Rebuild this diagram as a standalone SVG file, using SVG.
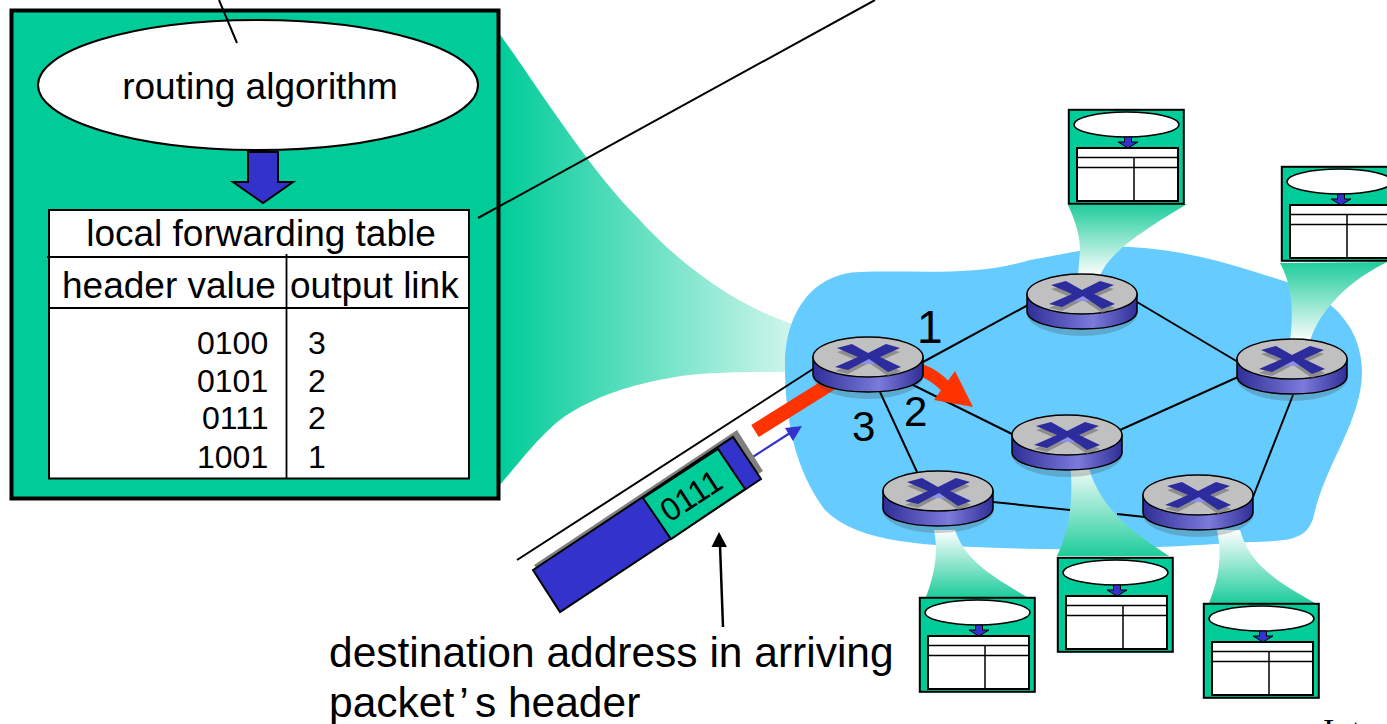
<svg xmlns="http://www.w3.org/2000/svg" xmlns:xlink="http://www.w3.org/1999/xlink" width="1387" height="724" viewBox="0 0 1387 724">
<style>
text{font-family:"Liberation Sans",Arial,sans-serif;fill:#000}
.ln{stroke:#000;fill:none}
.t37{font-size:37px}
.t{font-size:32px}
.teal{fill:#00cc99}
</style>
<defs>
<linearGradient id="fanL" gradientUnits="userSpaceOnUse" x1="500" y1="0" x2="795" y2="0"><stop offset="0" stop-color="#00cc99"/><stop offset="1" stop-color="#00cc99" stop-opacity=".18"/></linearGradient>
<linearGradient id="fanDown" x1="0" y1="0" x2="0" y2="1"><stop offset="0" stop-color="#1fcc9b"/><stop offset="1" stop-color="#ffffff"/></linearGradient>
<linearGradient id="fanUp" x1="0" y1="1" x2="0" y2="0"><stop offset="0" stop-color="#1fcc9b"/><stop offset="1" stop-color="#ffffff"/></linearGradient>
<linearGradient id="side" x1="0" y1="0" x2="1" y2="0"><stop offset="0" stop-color="#2e2e96"/><stop offset=".6" stop-color="#7b7bdc"/><stop offset="1" stop-color="#2e2e96"/></linearGradient>
<g id="router">
<ellipse cx="0" cy="10" rx="56" ry="24" fill="#444" opacity=".25"/>
<path d="M-55 -8V9C-55 20-30 27 0 27S55 20 55 9V-8Z" fill="url(#side)" stroke="#000" stroke-width="1.500"/>
<ellipse cx="0" cy="-8" rx="55" ry="20" fill="#c0c0c0" stroke="#000" stroke-width="1.500"/>
<path d="M-31 -17L-16 -21L0 -12L18 -21L32 -17L12 -8L33 2L20 7L1 -6L-20 5L-33 2L-10 -8Z" fill="#777" opacity=".7" transform="translate(0 4)"/>
<path d="M-10 -8L0 -12L12 -8V-1H-10Z" fill="#8f8fe8"/>
<path d="M-31 -17L-16 -21L0 -12L18 -21L32 -17L12 -8L33 2L20 7L1 -6L-20 5L-33 2L-10 -8Z" fill="#2c2c9c"/>
</g>
<g id="mini">
<rect x="0.800" y="0.800" width="115" height="94" class="teal" stroke="#000" stroke-width="2"/>
<ellipse cx="58.500" cy="15.500" rx="52.500" ry="12.500" fill="#fff" stroke="#000" stroke-width="1.500"/>
<path d="M56.500 28H63.500V33H70L60 39L50 33H56.500Z" fill="#3333cc" stroke="#000" stroke-width="1"/>
<rect x="9" y="39" width="101" height="53" fill="#fff" stroke="#000" stroke-width="2"/>
<path d="M9 48.500H110M9 58.500H110M66 48.500V92" class="ln" stroke-width="1.500"/>
</g>
</defs>

<g id="wide-fan"><path d="M499 33C540 90 590 170 637 217C680 265 735 305 795 325V372C740 372 700 372 670 378C630 385 600 395 570 413C545 428 520 462 499 486Z" fill="url(#fanL)"/></g>

<g id="cloud"><path d="M785 365C785 310 815 273 860 272C920 270 975 277 1030 260C1070 253 1100 245 1130 247C1190 250 1240 267 1290 283C1335 298 1362 330 1362 372C1362 420 1325 465 1314 515C1308 540 1290 541 1250 542C1200 545 1100 552 1000 548C930 545 860 545 825 510C795 470 785 420 785 365Z" fill="#66ccff"/></g>

<g id="fans">
<path d="M1068 205C1075 220 1080 235 1080 250L1078 276H1100C1108 255 1135 235 1187 204Z" fill="url(#fanDown)"/>
<path d="M1280 263C1292 285 1294 310 1290 342H1310C1315 320 1340 285 1387 262Z" fill="url(#fanDown)"/>
<path d="M934 530C938 550 936 570 926 597H1027C990 575 965 560 955 530Z" fill="url(#fanUp)"/>
<path d="M1070 462C1073 490 1072 525 1057 556H1169C1130 530 1100 510 1087 462Z" fill="url(#fanUp)"/>
<path d="M1217 530C1222 555 1220 575 1209 603H1315C1275 580 1250 565 1240 530Z" fill="url(#fanUp)"/>
</g>

<g id="main-box">
<rect x="11.500" y="10.500" width="487" height="488" class="teal" stroke="#000" stroke-width="4"/>
<ellipse cx="258" cy="85" rx="220" ry="65" fill="#fff" stroke="#000" stroke-width="2"/>
<text x="260" y="99" text-anchor="middle" class="t37">routing algorithm</text>
<path d="M248 152H278V182H293L263 203L233 182H248Z" fill="#3333cc" stroke="#000" stroke-width="2"/>
<rect x="49" y="210" width="420" height="268.500" fill="#fff" stroke="#000" stroke-width="2"/>
<path d="M47 257H469M49 308H469M286.500 254V478" class="ln" stroke-width="1.800"/>
<text x="261" y="246" text-anchor="middle" class="t37">local forwarding table</text>
<text x="62" y="298" class="t37">header value</text>
<text x="290" y="298" class="t37">output link</text>
<g class="t"><text x="197" y="354">0100</text><text x="308" y="354">3</text><text x="197" y="392">0101</text><text x="308" y="392">2</text><text x="202" y="429">0111</text><text x="308" y="429">2</text><text x="197" y="468">1001</text><text x="308" y="468">1</text></g>
</g>

<g id="connectors">
<path class="ln" stroke-width="2" d="M237 43L219 0M478 218L875 0M517 560L813 369M923 362L1028 305M1137 302L1238 362M913 385L1012 434M1120 430L1238 377M880 392L917 472M993 502L1070 510M1117 514L1145 517M1253 497L1293 395"/>
<path d="M755 431L835 381" stroke="#ff3300" stroke-width="14" fill="none"/>
<path d="M921 370Q935 375 947 388" stroke="#ff3300" stroke-width="12" fill="none"/>
<path d="M955 371L973 407L934 400Z" fill="#ff3300"/>
<path d="M748 460L790 433" stroke="#3333cc" stroke-width="2.200" fill="none"/>
<path d="M802 426L785 428L793 441Z" fill="#3333cc"/>
<path d="M723 627L720 545" stroke="#000" stroke-width="2.500" fill="none"/>
<path d="M719 532L711.500 547H727Z" fill="#000"/>
</g>

<g id="packet">
<path d="M534 565L737 430L763 471L560 600Z" fill="#808080"/>
<path d="M533 570L733 437L761 479L560 612Z" fill="#3333cc" stroke="#000" stroke-width="2"/>
<path d="M643 498L718 449L745 489L671 539Z" class="teal" stroke="#000" stroke-width="2"/>
<text text-anchor="middle" class="t" transform="translate(697 505) rotate(-33)">0111</text>
</g>

<g id="router-a"><use xlink:href="#router" href="#router" x="868" y="365"/></g>
<g id="router-b"><use xlink:href="#router" href="#router" x="1082" y="302"/></g>
<g id="router-c"><use xlink:href="#router" href="#router" x="1292" y="367"/></g>
<g id="router-d"><use xlink:href="#router" href="#router" x="1067" y="443"/></g>
<g id="router-e"><use xlink:href="#router" href="#router" x="938" y="499"/></g>
<g id="router-f"><use xlink:href="#router" href="#router" x="1198" y="503"/></g>

<g id="table-1"><use xlink:href="#mini" href="#mini" x="1068" y="109"/></g>
<g id="table-2"><use xlink:href="#mini" href="#mini" x="1281" y="166"/></g>
<g id="table-3"><use xlink:href="#mini" href="#mini" x="919" y="597"/></g>
<g id="table-4"><use xlink:href="#mini" href="#mini" x="1057" y="557"/></g>
<g id="table-5"><use xlink:href="#mini" href="#mini" x="1203" y="603"/></g>

<g id="labels">
<text x="917" y="343" style="font-size:46px">1</text>
<text x="904" y="426" style="font-size:42px">2</text>
<text x="852" y="441" style="font-size:42px">3</text>
<text x="329" y="667" style="font-size:42.500px">destination address in arriving</text>
<text x="329" y="717" style="font-size:42.500px">packet<tspan dx="5">’</tspan><tspan dx="7">s header</tspan></text>
<text x="1323" y="742.400" style="font-size:34px;font-family:'Liberation Serif',serif">Int</text>
</g>
</svg>
